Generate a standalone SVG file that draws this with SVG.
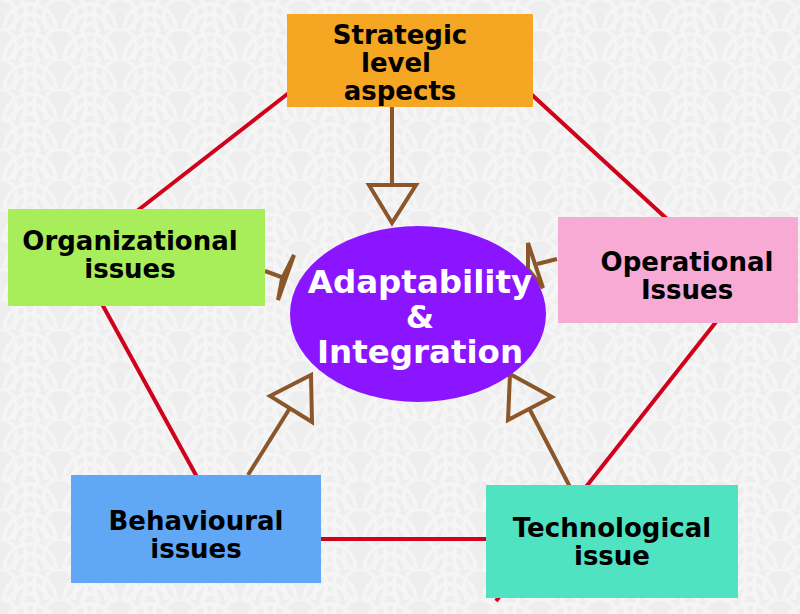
<svg xmlns="http://www.w3.org/2000/svg" width="800" height="614" viewBox="0 0 800 614">
<defs>
<pattern id="wave" width="60" height="30" patternUnits="userSpaceOnUse">
<rect width="60" height="30" fill="#eeeeee"/>
<g fill="none" stroke="#f5f5f5" stroke-width="4">
<circle cx="30" cy="30" r="26"/><circle cx="30" cy="30" r="16"/><circle cx="30" cy="30" r="6"/>
<circle cx="0" cy="15" r="26"/><circle cx="60" cy="15" r="26"/>
<circle cx="0" cy="15" r="16"/><circle cx="60" cy="15" r="16"/>
</g>
</pattern>
<style>
.edge{stroke:#d0021b;stroke-width:4;fill:none}
.arrow{stroke:#8b572a;stroke-width:4;fill:none;stroke-linejoin:miter}
.lbl{font-family:"DejaVu Sans",sans-serif;font-weight:bold;font-size:26px;fill:#000;text-anchor:middle}
.big{font-family:"DejaVu Sans",sans-serif;font-weight:bold;font-size:32.5px;fill:#fff;text-anchor:middle}
</style>
</defs>
<rect width="800" height="614" fill="url(#wave)"/>
<g id="connectors">
<line class="edge" x1="290" y1="92" x2="137" y2="211"/>
<line class="edge" x1="531" y1="94" x2="667" y2="219"/>
<line class="edge" x1="102" y1="304" x2="197" y2="477"/>
<line class="edge" x1="716" y1="322" x2="496" y2="601"/>
<line class="edge" x1="320" y1="539" x2="488" y2="539"/>
<line class="arrow" x1="392" y1="107" x2="392" y2="185"/>
<polygon class="arrow" points="369,185 416,185 392,223"/>
<line class="arrow" x1="265" y1="271" x2="284" y2="278"/>
<polygon class="arrow" points="294,255 282,279 278,300" stroke-width="3"/>
<line class="arrow" x1="557" y1="259" x2="537" y2="264"/>
<polygon class="arrow" points="528,243 528,269 543,288" stroke-width="3"/>
<line class="arrow" x1="248" y1="475" x2="290" y2="408"/>
<polygon class="arrow" points="270,396 311,375 312,422"/>
<line class="arrow" x1="570" y1="487" x2="530" y2="410"/>
<polygon class="arrow" points="510,374 552,397 508,420"/>
</g>
<g id="strategic">
<rect x="287" y="14" width="246" height="93" fill="#f5a623"/>
<text class="lbl" x="400" y="44">Strategic</text>
<text class="lbl" x="396" y="72">level</text>
<text class="lbl" x="400" y="100">aspects</text>
</g>
<g id="organizational">
<rect x="8" y="209" width="257" height="97" fill="#a8ee5a"/>
<text class="lbl" x="130" y="250">Organizational</text>
<text class="lbl" x="130" y="278">issues</text>
</g>
<g id="operational">
<rect x="558" y="217" width="240" height="106" fill="#f6aad4"/>
<text class="lbl" x="687" y="271">Operational</text>
<text class="lbl" x="687" y="299">Issues</text>
</g>
<g id="behavioural">
<rect x="71" y="475" width="250" height="108" fill="#60a8f5"/>
<text class="lbl" x="196" y="530">Behavioural</text>
<text class="lbl" x="196" y="558">issues</text>
</g>
<g id="technological">
<rect x="486" y="485" width="252" height="113" fill="#50e3c2"/>
<text class="lbl" x="612" y="537">Technological</text>
<text class="lbl" x="612" y="565">issue</text>
</g>
<g id="center">
<ellipse cx="418" cy="314" rx="128" ry="88" fill="#8b15ff"/>
<text class="big" x="420" y="293">Adaptability</text>
<text class="big" x="420" y="328">&amp;</text>
<text class="big" x="420" y="363">Integration</text>
</g>
</svg>
